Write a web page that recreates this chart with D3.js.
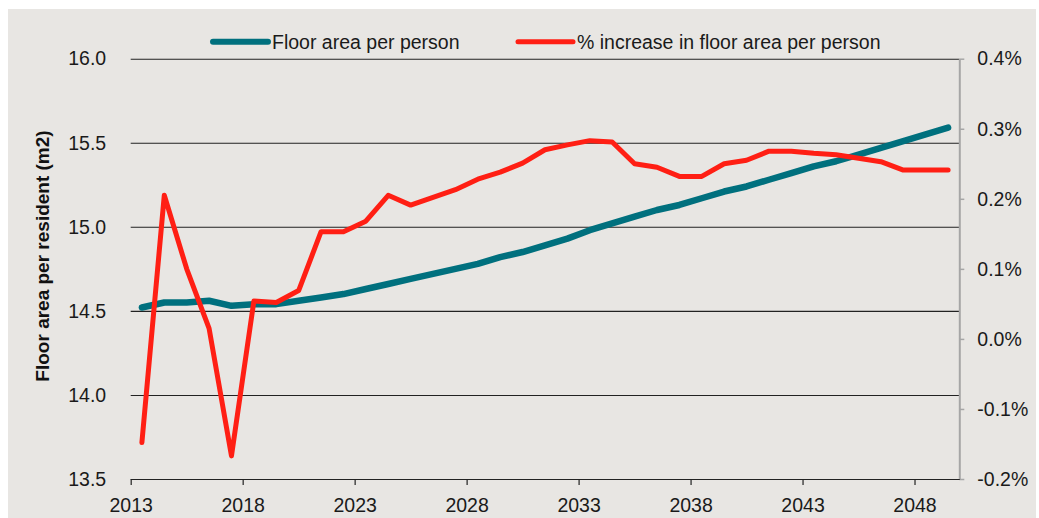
<!DOCTYPE html>
<html>
<head>
<meta charset="utf-8">
<script src="https://cdn.jsdelivr.net/npm/d3@7"></script>
<style>
  body { margin: 0; background: #fff; }
  svg { display: block; font-family: "Liberation Sans", Arial, sans-serif; }
  .axis text { fill: #1a1a1a; font-size: 19.5px; }
</style>
</head>
<body>
<svg width="1039" height="518"></svg>
<script>
var years = d3.range(2013, 2050);

// floor area per resident (m2), left axis
var floorArea = [14.52, 14.55, 14.55, 14.56, 14.53, 14.54, 14.54, 14.56, 14.58, 14.60,
  14.63, 14.66, 14.69, 14.72, 14.75, 14.78, 14.82, 14.85, 14.89, 14.93,
  14.98, 15.02, 15.06, 15.10, 15.13, 15.17, 15.21, 15.24, 15.28, 15.32,
  15.36, 15.39, 15.43, 15.47, 15.51, 15.55, 15.59];

// % increase, right axis
var pctIncrease = [-0.148, 0.205, 0.10, 0.015, -0.167, 0.054, 0.052, 0.069, 0.153, 0.153,
  0.168, 0.205, 0.191, 0.202, 0.213, 0.228, 0.238, 0.251, 0.27, 0.277,
  0.283, 0.281, 0.25, 0.245, 0.232, 0.232, 0.25, 0.255, 0.268, 0.268,
  0.265, 0.263, 0.258, 0.253, 0.241, 0.241, 0.241];

var leftTicks = [13.5, 14.0, 14.5, 15.0, 15.5, 16.0];
var rightTicks = [-0.2, -0.1, 0.0, 0.1, 0.2, 0.3, 0.4];
var xTicks = [2013, 2018, 2023, 2028, 2033, 2038, 2043, 2048];
var seriesNames = ["Floor area per person", "% increase in floor area per person"];

var teal = "#00707e", red = "#ff1f14";

var svg = d3.select("svg");

var plotLeft = 130.7, plotRight = 959.3, plotTop = 58.7, plotBottom = 479;

svg.append("rect")
  .attr("x", 8).attr("y", 9)
  .attr("width", 1028).attr("height", 509)
  .attr("fill", "#e8e6e3");

var x = d3.scaleLinear().domain([2013, 2050]).range([plotLeft, plotRight]);
var yL = d3.scaleLinear().domain([13.5, 16]).range([plotBottom, plotTop]);
var yR = d3.scaleLinear().domain([-0.2, 0.4]).range([plotBottom, plotTop]);

// gridlines
svg.append("g")
  .attr("transform", "translate(" + plotLeft + ",0)")
  .call(d3.axisLeft(yL).tickValues(leftTicks).tickSize(-(plotRight - plotLeft)).tickFormat(""))
  .call(function(g) {
    g.select(".domain").remove();
    g.selectAll("line").attr("stroke", "#222").attr("stroke-width", 1.1);
  });

// left axis labels
svg.append("g")
  .attr("class", "axis")
  .attr("transform", "translate(" + plotLeft + ",0)")
  .call(d3.axisLeft(yL).tickValues(leftTicks).tickSize(0).tickPadding(24.5)
    .tickFormat(d3.format(".1f")))
  .call(function(g) { g.select(".domain").remove(); });

// right axis
svg.append("g")
  .attr("class", "axis")
  .attr("transform", "translate(" + plotRight + ",0)")
  .call(d3.axisRight(yR).tickValues(rightTicks).tickSize(5).tickSizeOuter(0).tickPadding(13)
    .tickFormat(function(d) { return d.toFixed(1) + "%"; }))
  .call(function(g) {
    g.select(".domain").attr("stroke", "#a6a6a6").attr("stroke-width", 2);
    g.selectAll(".tick line").attr("stroke", "#a6a6a6").attr("stroke-width", 1.5);
  });

// bottom axis
svg.append("g")
  .attr("class", "axis")
  .attr("transform", "translate(0," + plotBottom + ")")
  .call(d3.axisBottom(x).tickValues(xTicks).tickSize(6).tickSizeOuter(0).tickPadding(13)
    .tickFormat(d3.format("d")))
  .call(function(g) {
    g.select(".domain").attr("stroke", "#222").attr("stroke-width", 1.2);
    g.selectAll(".tick line").attr("stroke", "#222").attr("stroke-width", 1.2);
  });

// axis title
svg.append("text")
  .attr("transform", "translate(49,256) rotate(-90)")
  .attr("text-anchor", "middle")
  .attr("font-size", "19px")
  .attr("font-weight", "bold")
  .attr("fill", "#111")
  .text("Floor area per resident (m2)");

var lineL = d3.line()
  .x(function(d, i) { return x(years[i] + 0.5); })
  .y(function(d) { return yL(d); });

var lineR = d3.line()
  .x(function(d, i) { return x(years[i] + 0.5); })
  .y(function(d) { return yR(d); });

svg.append("path")
  .datum(floorArea)
  .attr("d", lineL)
  .attr("fill", "none")
  .attr("stroke", teal)
  .attr("stroke-width", 6.5)
  .attr("stroke-linejoin", "round")
  .attr("stroke-linecap", "round");

svg.append("path")
  .datum(pctIncrease)
  .attr("d", lineR)
  .attr("fill", "none")
  .attr("stroke", red)
  .attr("stroke-width", 5)
  .attr("stroke-linejoin", "round")
  .attr("stroke-linecap", "round");

// legend
var legendX = [213, 518];
var legend = svg.append("g").selectAll("g")
  .data(seriesNames)
  .enter().append("g")
  .attr("transform", function(d, i) { return "translate(" + legendX[i] + ",0)"; });

legend.append("line")
  .attr("x1", 0).attr("x2", 55)
  .attr("y1", 41.7).attr("y2", 41.7)
  .attr("stroke", function(d, i) { return i === 0 ? teal : red; })
  .attr("stroke-width", function(d, i) { return i === 0 ? 6 : 5; })
  .attr("stroke-linecap", "round");

legend.append("text")
  .attr("x", 59)
  .attr("y", 49.3)
  .attr("font-size", "19.5px")
  .attr("fill", "#1a1a1a")
  .text(function(d) { return d; });
</script>
</body>
</html>
